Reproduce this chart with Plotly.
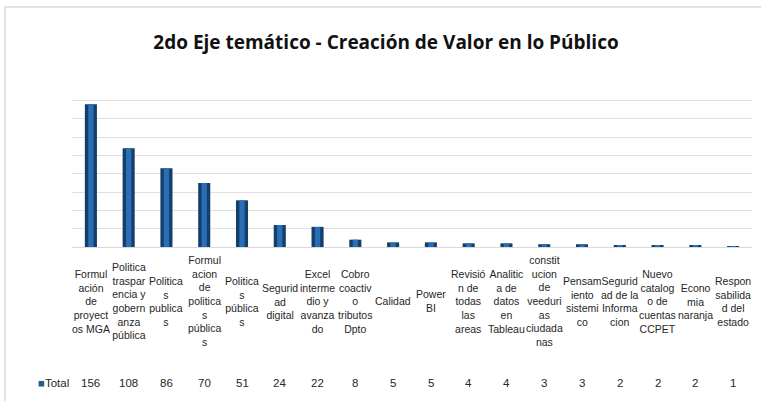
import plotly.graph_objects as go

categories = [
    "Formul<br>ación<br>de<br>proyect<br>os MGA",
    "Politica<br>traspar<br>encia y<br>gobern<br>anza<br>pública",
    "Politica<br>s<br>publica<br>s",
    "Formul<br>acion<br>de<br>politica<br>s<br>pública<br>s",
    "Politica<br>s<br>pública<br>s",
    "Segurid<br>ad<br>digital",
    "Excel<br>interme<br>dio y<br>avanza<br>do",
    "Cobro<br>coactiv<br>o<br>tributos<br>Dpto",
    "Calidad",
    "Power<br>BI",
    "Revisió<br>n de<br>todas<br>las<br>areas",
    "Analitic<br>a de<br>datos<br>en<br>Tableau",
    "constit<br>ucion<br>de<br>veeduri<br>as<br>ciudada<br>nas",
    "Pensam<br>iento<br>sistemi<br>co",
    "Segurid<br>ad de la<br>Informa<br>cion",
    "Nuevo<br>catalog<br>o de<br>cuentas<br>CCPET",
    "Econo<br>mia<br>naranja",
    "Respon<br>sabilida<br>d del<br>estado",
]
values = [156, 108, 86, 70, 51, 24, 22, 8, 5, 5, 4, 4, 3, 3, 2, 2, 2, 1]
series_name = "Total"
title = "2do Eje temático - Creación de Valor en lo Público"
grid_ticks = [0, 20, 40, 60, 80, 100, 120, 140, 160, 180]

x = list(range(len(values)))
FONT = "Liberation Sans Narrow, Arial Narrow, Liberation Sans, sans-serif"
TXT = "#262626"

fig = go.Figure()
fig.add_trace(go.Bar(x=x, y=values, width=0.32, marker=dict(color="#143F6B", line=dict(width=0)),
                     showlegend=False, hoverinfo="skip"))
fig.add_trace(go.Bar(x=x, y=values, width=0.14, marker=dict(color="#2A6FB5", line=dict(width=0)),
                     name=series_name, showlegend=False))

H = 401
MB = 154
MT = 82
plot_h = H - MT - MB


def py2paper(py):
    return (H - MB - py) / plot_h


annotations = []
for i, (c, v) in enumerate(zip(categories, values)):
    annotations.append(dict(x=i, xref="x", y=py2paper(301), yref="paper", text=c, showarrow=False,
                            xanchor="center", yanchor="middle", align="center",
                            font=dict(family=FONT, size=10.5, color=TXT)))
    annotations.append(dict(x=i, xref="x", y=py2paper(383), yref="paper", text=str(v), showarrow=False,
                            xanchor="center", yanchor="middle",
                            font=dict(family=FONT, size=11.5, color=TXT)))

annotations.append(dict(x=(71 - 72) / 680, xref="paper", y=py2paper(383), yref="paper",
                        text="<span style='color:#1F5C99'>■</span>Total", showarrow=False,
                        xanchor="right", yanchor="middle",
                        font=dict(family=FONT, size=11.5, color=TXT)))

fig.update_layout(
    width=761, height=401,
    margin=dict(l=72, r=9, t=MT, b=MB),
    paper_bgcolor="white", plot_bgcolor="white",
    barmode="overlay",
    title=dict(text="<b>" + title + "</b>", x=386 / 761, xanchor="center", y=1 - 42 / 401, yanchor="middle",
               font=dict(family="Open Sans, sans-serif", size=19, color="#111111")),
    xaxis=dict(range=[-0.5, len(values) - 0.5], showticklabels=False, showgrid=False,
               zeroline=False, showline=True, linecolor="#d9d9d9", linewidth=1, fixedrange=True),
    yaxis=dict(range=[0, 180.3], tickmode="array", tickvals=grid_ticks, showticklabels=False,
               showgrid=True, gridcolor="#e0e0e0", gridwidth=1, zeroline=False, fixedrange=True),
    showlegend=False,
    annotations=annotations,
)

# chart border
fig.add_shape(type="rect", xref="paper", yref="paper",
              x0=(5 - 72) / 680, x1=(762 - 72) / 680,
              y0=py2paper(402), y1=py2paper(7),
              line=dict(color="#d9d9d9", width=1.5), layer="below")

fig.write_html("out.html", config={"displayModeBar": False},
               post_script="document.body.style.margin='0';document.body.style.overflow='hidden';")
